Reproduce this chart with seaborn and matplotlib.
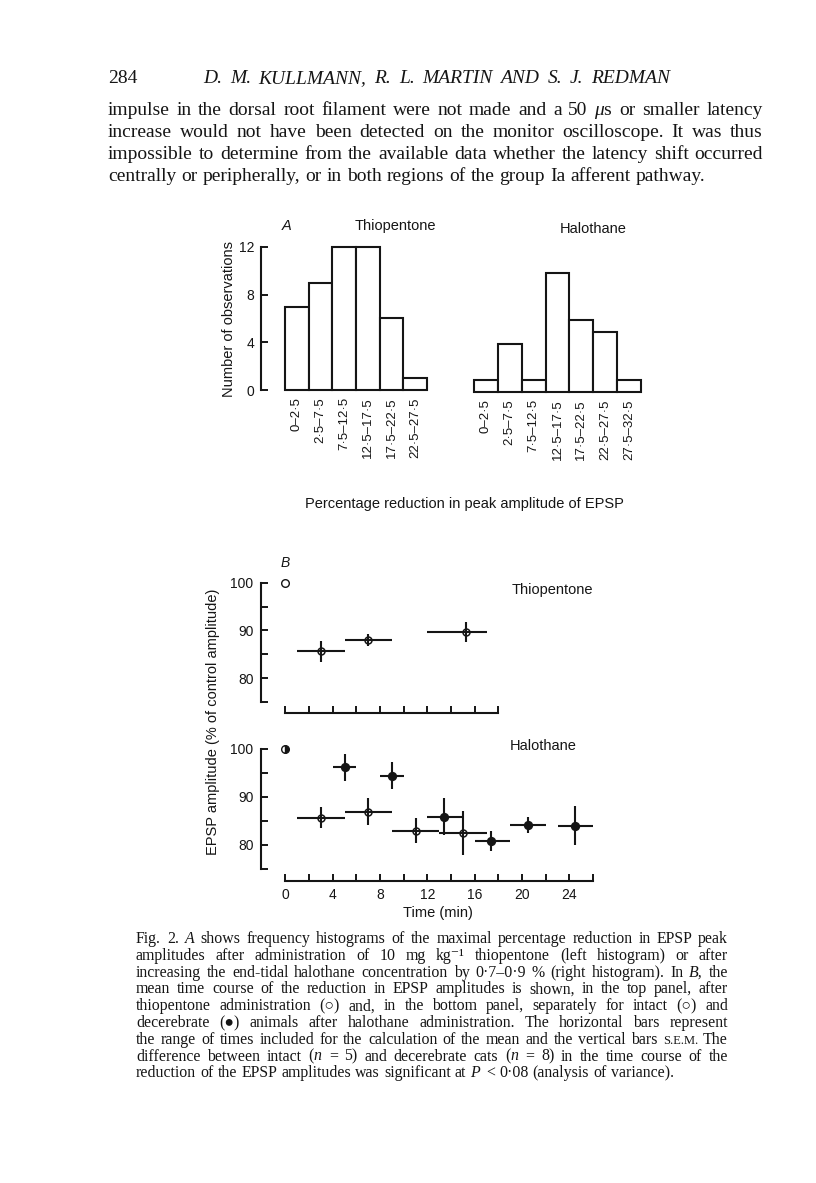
import numpy as np
import matplotlib
matplotlib.use('Agg')
import matplotlib.pyplot as plt
import seaborn as sns

# page size in pixels (dpi 100)
W, H = 816, 1183
INK = '#151515'

# Fig. 2A histograms
thio_bins = ['0–2·5', '2·5–7·5', '7·5–12·5', '12·5–17·5', '17·5–22·5', '22·5–27·5']
thio_counts = [7, 9, 12, 12, 6, 1]
halo_bins = ['0–2·5', '2·5–7·5', '7·5–12·5', '12·5–17·5', '17·5–22·5', '22·5–27·5', '27·5–32·5']
halo_counts = [1, 4, 1, 10, 6, 5, 1]

# Fig. 2B time courses (mean time, mean amplitude, s.e.m., time range)
thio_t = np.array([3.0, 7.0, 15.3])
thio_y = np.array([85.6, 88.0, 89.6])
thio_sem = np.array([2.2, 1.3, 2.1])
thio_lo = np.array([1, 5, 12])
thio_hi = np.array([5, 9, 17])

intact_t = np.array([3.0, 7.0, 11.0, 15.0])
intact_y = np.array([85.7, 86.9, 83.0, 82.5])
intact_sem = np.array([2.2, 2.8, 2.6, 4.6])
intact_lo = np.array([1, 5, 9, 13])
intact_hi = np.array([5, 9, 13, 17])

decer_t = np.array([5.0, 9.0, 13.4, 17.4, 20.5, 24.5])
decer_y = np.array([96.2, 94.4, 85.9, 80.8, 84.2, 84.0])
decer_sem = np.array([2.8, 2.8, 3.9, 2.1, 1.7, 4.1])
decer_lo = np.array([4, 8, 12, 16, 19, 23])
decer_hi = np.array([6, 10, 15, 19, 22, 26])

# page text
header_no = '284'
header_title = 'D. M. KULLMANN, R. L. MARTIN AND S. J. REDMAN'
body_lines = [
    'impulse in the dorsal root filament were not made and a 50 $\\mu$s or smaller latency',
    'increase would not have been detected on the monitor oscilloscope. It was thus',
    'impossible to determine from the available data whether the latency shift occurred',
    'centrally or peripherally, or in both regions of the group Ia afferent pathway.',
]
caption_lines = [
    'Fig. 2. *A shows frequency histograms of the maximal percentage reduction in EPSP peak',
    'amplitudes after administration of 10 mg kg⁻¹ thiopentone (left histogram) or after',
    'increasing the end-tidal halothane concentration by 0·7–0·9 % (right histogram). In *B, the',
    'mean time course of the reduction in EPSP amplitudes is shown, in the top panel, after',
    'thiopentone administration (○) and, in the bottom panel, separately for intact (○) and',
    'decerebrate (●) animals after halothane administration. The horizontal bars represent',
    'the range of times included for the calculation of the mean and the vertical bars ^s.e.m. The',
    'difference between intact ($n$ = 5) and decerebrate cats ($n$ = 8) in the time course of the',
    'reduction of the EPSP amplitudes was significant at $P$ < 0·08 (analysis of variance).',
]

sns.set_theme(style='ticks')
SANS = ['Liberation Sans', 'DejaVu Sans']
SERIF = ['Liberation Serif', 'DejaVu Serif']
plt.rcParams['font.family'] = SANS
plt.rcParams['mathtext.fontset'] = 'custom'
plt.rcParams['mathtext.rm'] = 'Liberation Serif'
plt.rcParams['mathtext.it'] = 'Liberation Serif:italic'
plt.rcParams['text.color'] = INK
plt.rcParams['axes.edgecolor'] = INK
plt.rcParams['xtick.color'] = INK
plt.rcParams['ytick.color'] = INK

fig = plt.figure(figsize=(W / 100, H / 100), dpi=100)
fig.patch.set_facecolor('white')


def add_ax(left, top, right, bottom):
    # axes placed by pixel edges on the page
    return fig.add_axes([left / W, 1 - bottom / H, (right - left) / W, (bottom - top) / H])


def put(x, y, s, **kw):
    return fig.text(x / W, 1 - y / H, s, **kw)


def text_line(words, x0, y, size, family, x1=None, style='normal'):
    # lay words on a baseline, spreading them to x1 if given (justified)
    r = fig.canvas.get_renderer()
    items = []
    for w in words:
        st, sz = style, size
        if w.startswith('*'):
            st, w = 'italic', w[1:]
        if w.startswith('^'):
            sz, w = size * 0.78, w[1:].upper()
        t = put(0, y, w, fontsize=sz, family=family, style=st, va='baseline', ha='left')
        items.append((t, t.get_window_extent(r).width))
    total = sum(wd for _, wd in items)
    if x1 is None or len(items) < 2:
        gap = size * 100 / 72 * 0.26
    else:
        gap = (x1 - x0 - total) / (len(items) - 1)
    x = x0
    for t, wd in items:
        t.set_x(x / W)
        x += wd + gap


# ---- page text ----
text_line([header_no], 108, 83, 14, SERIF)
text_line(header_title.split(), 203, 83, 14, SERIF, x1=670, style='italic')
for i, line in enumerate(body_lines):
    last = i == len(body_lines) - 1
    text_line(line.split(), 108, 115 + 22 * i, 14, SERIF, x1=None if last else 763)
for i, line in enumerate(caption_lines):
    last = i == len(caption_lines) - 1
    text_line(line.split(), 136, 943 + 16.8 * i, 11.4, SERIF, x1=None if last else 728)

# ---- A: histograms ----
bar_kw = dict(color='white', edgecolor=INK, linewidth=1.5, width=1.0, saturation=1)

ax1 = add_ax(261, 390 - 12.6 * 11.92, 261 + 7.13 * 23.7, 390 + 0.15 * 11.92)
sns.barplot(x=thio_bins, y=thio_counts, ax=ax1, **bar_kw)
ax1.set_xlim(-1.51, 5.62)
ax1.set_ylim(-0.15, 12.6)

ax2 = add_ax(474 - 0.1 * 23.86, 392 - 12.6 * 11.92, 641 + 0.1 * 23.86, 392 + 0.15 * 11.92)
sns.barplot(x=halo_bins, y=halo_counts, ax=ax2, **bar_kw)
ax2.set_xlim(-0.6, 6.6)
ax2.set_ylim(-0.15, 12.6)

for ax in (ax1, ax2):
    ax.set_facecolor('none')
    ax.set_xlabel('')
    ax.set_ylabel('')
    for s in ('top', 'right', 'bottom'):
        ax.spines[s].set_visible(False)
    ax.tick_params(axis='x', length=0, pad=4, labelsize=9.5, labelrotation=90)

ax1.spines['left'].set_bounds(0, 12)
ax1.spines['left'].set_linewidth(1.5)
ax1.set_yticks([0, 4, 8, 12])
ax1.tick_params(axis='y', direction='in', length=5, width=1.4, labelsize=10, pad=5)
ax2.spines['left'].set_visible(False)
ax2.set_yticks([])

put(287, 226, 'A', fontsize=10.5, style='italic', ha='center', va='center')
put(395, 226, 'Thiopentone', fontsize=10.5, ha='center', va='center')
put(593, 229, 'Halothane', fontsize=10.5, ha='center', va='center')
put(229, 319, 'Number of observations', fontsize=10.5, rotation=90, ha='center', va='center')
put(464, 504, 'Percentage reduction in peak amplitude of EPSP', fontsize=10.5, ha='center', va='center')

# ---- B: time courses ----
axb1 = add_ax(260.5, 583 - 2 * 4.75, 285.5 + 28 * 11.83, 583 + 27.4 * 4.75)
axb1.set_ylim(72.6, 102)
axb2 = add_ax(260.5, 749 - 2 * 4.8, 285.5 + 28 * 11.83, 749 + 27.5 * 4.8)
axb2.set_ylim(72.5, 102)


def time_points(ax, t, y, sem, lo, hi, filled):
    ax.errorbar(t, y, yerr=sem, xerr=[t - lo, hi - t], fmt='none',
                ecolor=INK, elinewidth=1.5, capsize=0, zorder=2)
    if filled:
        sns.scatterplot(x=t, y=y, ax=ax, color=INK, s=45, linewidth=0, zorder=3)
    else:
        ax.plot(t, y, 'o', mfc='none', mec=INK, mew=1.1, ms=5, zorder=3)


time_points(axb1, thio_t, thio_y, thio_sem, thio_lo, thio_hi, False)
axb1.plot([0], [100], 'o', mfc='none', mec=INK, mew=1.0, ms=5.5)

time_points(axb2, intact_t, intact_y, intact_sem, intact_lo, intact_hi, False)
time_points(axb2, decer_t, decer_y, decer_sem, decer_lo, decer_hi, True)
axb2.plot([0], [100], 'o', fillstyle='right', mfc=INK, mfcalt='white', mec=INK, mew=1.0, ms=5.5)

for ax, xmax in ((axb1, 18), (axb2, 26)):
    ax.set_facecolor('none')
    ax.set_xlim(-2.1, 28)
    for s in ('top', 'right'):
        ax.spines[s].set_visible(False)
    ax.spines['left'].set_bounds(75, 100)
    ax.spines['bottom'].set_bounds(0, xmax)
    ax.spines['left'].set_linewidth(1.5)
    ax.spines['bottom'].set_linewidth(1.5)
    ax.set_yticks([80, 90, 100])
    ax.set_yticks([75, 85, 95], minor=True)
    ax.set_xticks(np.arange(0, xmax + 1, 4))
    ax.set_xticks(np.arange(2, xmax + 1, 4), minor=True)
    ax.tick_params(which='both', direction='in', length=5, width=1.4, labelsize=10, pad=5)
    ax.set_xlabel('')
    ax.set_ylabel('')

axb1.tick_params(axis='x', which='both', labelbottom=False)

put(285, 563, 'B', fontsize=10, style='italic', ha='center', va='center')
put(512, 590, 'Thiopentone', fontsize=10.5, ha='left', va='center')
put(510, 746, 'Halothane', fontsize=10.5, ha='left', va='center')
put(213, 722, 'EPSP amplitude (% of control amplitude)', fontsize=10.5, rotation=90, ha='center', va='center')
put(438, 913, 'Time (min)', fontsize=10.5, ha='center', va='center')

fig.savefig('out.png', dpi=100, facecolor='white')
